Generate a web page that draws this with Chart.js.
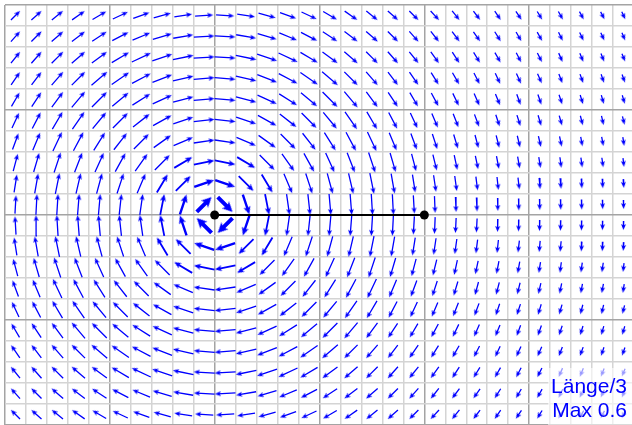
<!DOCTYPE html>
<html>
<head>
<meta charset="utf-8">
<script src="https://cdn.jsdelivr.net/npm/chart.js@4.4.1/dist/chart.umd.min.js"></script>
<style>
    html, body { margin: 0; padding: 0; background: #fff; overflow: hidden; }
    #wrap { position: relative; width: 632px; height: 425px; overflow: hidden; }
    #wrap canvas { position: absolute; left: 0; top: 0; }
    #note {
        position: absolute; left: 548px; top: 368px; width: 84px; height: 57px;
        box-sizing: border-box; padding: 5.75px 5px 0 0;
        background: rgba(255, 255, 255, 0.6);
        color: #0000ff; text-align: right;
        font-family: "Liberation Sans", Arial, Helvetica, sans-serif;
        font-size: 21px; line-height: 24px; white-space: nowrap;
    }
</style>
</head>
<body>
<div id="wrap">
    <canvas id="fieldChart" width="640" height="430"></canvas>
    <div id="note"></div>
</div>
<script>
// Wirbelfeld: Pfeile in den Zellmitten
const xCenters = [-1.9, -1.7, -1.5, -1.3, -1.1, -0.9, -0.7, -0.5, -0.3, -0.1,
    0.1, 0.3, 0.5, 0.7, 0.9, 1.1, 1.3, 1.5, 1.7, 1.9,
    2.1, 2.3, 2.5, 2.7, 2.9, 3.1, 3.3, 3.5, 3.7, 3.9];
const yCenters = [1.9, 1.7, 1.5, 1.3, 1.1, 0.9, 0.7, 0.5, 0.3, 0.1,
    -0.1, -0.3, -0.5, -0.7, -0.9, -1.1, -1.3, -1.5, -1.7, -1.9];

// x-Komponente je Zeile (oben nach unten)
const fieldU = [
    [0.26,0.29,0.32,0.36,0.39,0.43,0.46,0.49,0.51,0.52,0.52,0.51,0.49,0.46,0.43,0.39,0.36,0.32,0.29,0.26,0.24,0.21,0.19,0.17,0.16,0.14,0.13,0.12,0.11,0.10],
    [0.26,0.29,0.33,0.37,0.41,0.46,0.50,0.54,0.57,0.59,0.59,0.57,0.54,0.50,0.46,0.41,0.37,0.33,0.29,0.26,0.23,0.21,0.19,0.17,0.15,0.14,0.12,0.11,0.10,0.09],
    [0.26,0.29,0.33,0.38,0.43,0.49,0.55,0.60,0.64,0.66,0.66,0.64,0.60,0.55,0.49,0.43,0.38,0.33,0.29,0.26,0.23,0.20,0.18,0.16,0.14,0.13,0.11,0.10,0.09,0.09],
    [0.25,0.28,0.33,0.38,0.45,0.52,0.60,0.67,0.73,0.76,0.76,0.73,0.67,0.60,0.52,0.45,0.38,0.33,0.28,0.25,0.21,0.19,0.16,0.14,0.13,0.12,0.10,0.09,0.08,0.08],
    [0.23,0.27,0.32,0.38,0.45,0.54,0.65,0.75,0.85,0.90,0.90,0.85,0.75,0.65,0.54,0.45,0.38,0.32,0.27,0.23,0.20,0.17,0.15,0.13,0.11,0.10,0.09,0.08,0.07,0.07],
    [0.20,0.24,0.29,0.36,0.45,0.56,0.69,0.85,1.00,1.10,1.10,1.00,0.85,0.69,0.56,0.45,0.36,0.29,0.24,0.20,0.17,0.15,0.13,0.11,0.10,0.09,0.08,0.07,0.06,0.06],
    [0.17,0.21,0.26,0.32,0.41,0.54,0.71,0.95,1.21,1.40,1.40,1.21,0.95,0.71,0.54,0.41,0.32,0.26,0.21,0.17,0.14,0.12,0.10,0.09,0.08,0.07,0.06,0.05,0.05,0.04],
    [0.13,0.16,0.20,0.26,0.34,0.47,0.68,1.00,1.47,1.92,1.92,1.47,1.00,0.68,0.47,0.34,0.26,0.20,0.16,0.13,0.11,0.09,0.08,0.07,0.06,0.05,0.04,0.04,0.04,0.03],
    [0.08,0.10,0.13,0.17,0.23,0.33,0.52,0.88,1.67,3.00,3.00,1.67,0.88,0.52,0.33,0.23,0.17,0.13,0.10,0.08,0.07,0.06,0.05,0.04,0.04,0.03,0.03,0.02,0.02,0.02],
    [0.03,0.03,0.04,0.06,0.08,0.12,0.20,0.38,1.00,5.00,5.00,1.00,0.38,0.20,0.12,0.08,0.06,0.04,0.03,0.03,0.02,0.02,0.02,0.01,0.01,0.01,0.01,0.01,0.01,0.01],
    [-0.03,-0.03,-0.04,-0.06,-0.08,-0.12,-0.20,-0.38,-1.00,-5.00,-5.00,-1.00,-0.38,-0.20,-0.12,-0.08,-0.06,-0.04,-0.03,-0.03,-0.02,-0.02,-0.02,-0.01,-0.01,-0.01,-0.01,-0.01,-0.01,-0.01],
    [-0.08,-0.10,-0.13,-0.17,-0.23,-0.33,-0.52,-0.88,-1.67,-3.00,-3.00,-1.67,-0.88,-0.52,-0.33,-0.23,-0.17,-0.13,-0.10,-0.08,-0.07,-0.06,-0.05,-0.04,-0.04,-0.03,-0.03,-0.02,-0.02,-0.02],
    [-0.13,-0.16,-0.20,-0.26,-0.34,-0.47,-0.68,-1.00,-1.47,-1.92,-1.92,-1.47,-1.00,-0.68,-0.47,-0.34,-0.26,-0.20,-0.16,-0.13,-0.11,-0.09,-0.08,-0.07,-0.06,-0.05,-0.04,-0.04,-0.04,-0.03],
    [-0.17,-0.21,-0.26,-0.32,-0.41,-0.54,-0.71,-0.95,-1.21,-1.40,-1.40,-1.21,-0.95,-0.71,-0.54,-0.41,-0.32,-0.26,-0.21,-0.17,-0.14,-0.12,-0.10,-0.09,-0.08,-0.07,-0.06,-0.05,-0.05,-0.04],
    [-0.20,-0.24,-0.29,-0.36,-0.45,-0.56,-0.69,-0.85,-1.00,-1.10,-1.10,-1.00,-0.85,-0.69,-0.56,-0.45,-0.36,-0.29,-0.24,-0.20,-0.17,-0.15,-0.13,-0.11,-0.10,-0.09,-0.08,-0.07,-0.06,-0.06],
    [-0.23,-0.27,-0.32,-0.38,-0.45,-0.54,-0.65,-0.75,-0.85,-0.90,-0.90,-0.85,-0.75,-0.65,-0.54,-0.45,-0.38,-0.32,-0.27,-0.23,-0.20,-0.17,-0.15,-0.13,-0.11,-0.10,-0.09,-0.08,-0.07,-0.07],
    [-0.25,-0.28,-0.33,-0.38,-0.45,-0.52,-0.60,-0.67,-0.73,-0.76,-0.76,-0.73,-0.67,-0.60,-0.52,-0.45,-0.38,-0.33,-0.28,-0.25,-0.21,-0.19,-0.16,-0.14,-0.13,-0.12,-0.10,-0.09,-0.08,-0.08],
    [-0.26,-0.29,-0.33,-0.38,-0.43,-0.49,-0.55,-0.60,-0.64,-0.66,-0.66,-0.64,-0.60,-0.55,-0.49,-0.43,-0.38,-0.33,-0.29,-0.26,-0.23,-0.20,-0.18,-0.16,-0.14,-0.13,-0.11,-0.10,-0.09,-0.09],
    [-0.26,-0.29,-0.33,-0.37,-0.41,-0.46,-0.50,-0.54,-0.57,-0.59,-0.59,-0.57,-0.54,-0.50,-0.46,-0.41,-0.37,-0.33,-0.29,-0.26,-0.23,-0.21,-0.19,-0.17,-0.15,-0.14,-0.12,-0.11,-0.10,-0.09],
    [-0.26,-0.29,-0.32,-0.36,-0.39,-0.43,-0.46,-0.49,-0.51,-0.52,-0.52,-0.51,-0.49,-0.46,-0.43,-0.39,-0.36,-0.32,-0.29,-0.26,-0.24,-0.21,-0.19,-0.17,-0.16,-0.14,-0.13,-0.12,-0.11,-0.10],
];

// y-Komponente je Zeile (oben nach unten)
const fieldV = [
    [0.26,0.26,0.26,0.25,0.23,0.20,0.17,0.13,0.08,0.03,-0.03,-0.08,-0.13,-0.17,-0.20,-0.23,-0.25,-0.26,-0.26,-0.26,-0.26,-0.26,-0.25,-0.25,-0.24,-0.23,-0.23,-0.22,-0.21,-0.21],
    [0.29,0.29,0.29,0.28,0.27,0.24,0.21,0.16,0.10,0.03,-0.03,-0.10,-0.16,-0.21,-0.24,-0.27,-0.28,-0.29,-0.29,-0.29,-0.29,-0.28,-0.27,-0.27,-0.26,-0.25,-0.24,-0.23,-0.22,-0.22],
    [0.32,0.33,0.33,0.33,0.32,0.29,0.26,0.20,0.13,0.04,-0.04,-0.13,-0.20,-0.26,-0.29,-0.32,-0.33,-0.33,-0.33,-0.32,-0.32,-0.31,-0.29,-0.28,-0.27,-0.26,-0.25,-0.24,-0.23,-0.22],
    [0.36,0.37,0.38,0.38,0.38,0.36,0.32,0.26,0.17,0.06,-0.06,-0.17,-0.26,-0.32,-0.36,-0.38,-0.38,-0.38,-0.37,-0.36,-0.34,-0.33,-0.31,-0.30,-0.29,-0.27,-0.26,-0.25,-0.24,-0.23],
    [0.39,0.41,0.43,0.45,0.45,0.45,0.41,0.34,0.23,0.08,-0.08,-0.23,-0.34,-0.41,-0.45,-0.45,-0.45,-0.43,-0.41,-0.39,-0.37,-0.35,-0.34,-0.32,-0.30,-0.29,-0.27,-0.26,-0.25,-0.24],
    [0.43,0.46,0.49,0.52,0.54,0.56,0.54,0.47,0.33,0.12,-0.12,-0.33,-0.47,-0.54,-0.56,-0.54,-0.52,-0.49,-0.46,-0.43,-0.40,-0.38,-0.35,-0.33,-0.31,-0.30,-0.28,-0.27,-0.26,-0.24],
    [0.46,0.50,0.55,0.60,0.65,0.69,0.71,0.68,0.52,0.20,-0.20,-0.52,-0.68,-0.71,-0.69,-0.65,-0.60,-0.55,-0.50,-0.46,-0.43,-0.40,-0.37,-0.35,-0.33,-0.31,-0.29,-0.27,-0.26,-0.25],
    [0.49,0.54,0.60,0.67,0.75,0.85,0.95,1.00,0.88,0.38,-0.38,-0.88,-1.00,-0.95,-0.85,-0.75,-0.67,-0.60,-0.54,-0.49,-0.45,-0.42,-0.38,-0.36,-0.33,-0.31,-0.30,-0.28,-0.27,-0.25],
    [0.51,0.57,0.64,0.73,0.85,1.00,1.21,1.47,1.67,1.00,-1.00,-1.67,-1.47,-1.21,-1.00,-0.85,-0.73,-0.64,-0.57,-0.51,-0.47,-0.43,-0.39,-0.37,-0.34,-0.32,-0.30,-0.28,-0.27,-0.25],
    [0.52,0.59,0.66,0.76,0.90,1.10,1.40,1.92,3.00,5.00,-5.00,-3.00,-1.92,-1.40,-1.10,-0.90,-0.76,-0.66,-0.59,-0.52,-0.48,-0.43,-0.40,-0.37,-0.34,-0.32,-0.30,-0.29,-0.27,-0.26],
    [0.52,0.59,0.66,0.76,0.90,1.10,1.40,1.92,3.00,5.00,-5.00,-3.00,-1.92,-1.40,-1.10,-0.90,-0.76,-0.66,-0.59,-0.52,-0.48,-0.43,-0.40,-0.37,-0.34,-0.32,-0.30,-0.29,-0.27,-0.26],
    [0.51,0.57,0.64,0.73,0.85,1.00,1.21,1.47,1.67,1.00,-1.00,-1.67,-1.47,-1.21,-1.00,-0.85,-0.73,-0.64,-0.57,-0.51,-0.47,-0.43,-0.39,-0.37,-0.34,-0.32,-0.30,-0.28,-0.27,-0.25],
    [0.49,0.54,0.60,0.67,0.75,0.85,0.95,1.00,0.88,0.38,-0.38,-0.88,-1.00,-0.95,-0.85,-0.75,-0.67,-0.60,-0.54,-0.49,-0.45,-0.42,-0.38,-0.36,-0.33,-0.31,-0.30,-0.28,-0.27,-0.25],
    [0.46,0.50,0.55,0.60,0.65,0.69,0.71,0.68,0.52,0.20,-0.20,-0.52,-0.68,-0.71,-0.69,-0.65,-0.60,-0.55,-0.50,-0.46,-0.43,-0.40,-0.37,-0.35,-0.33,-0.31,-0.29,-0.27,-0.26,-0.25],
    [0.43,0.46,0.49,0.52,0.54,0.56,0.54,0.47,0.33,0.12,-0.12,-0.33,-0.47,-0.54,-0.56,-0.54,-0.52,-0.49,-0.46,-0.43,-0.40,-0.38,-0.35,-0.33,-0.31,-0.30,-0.28,-0.27,-0.26,-0.24],
    [0.39,0.41,0.43,0.45,0.45,0.45,0.41,0.34,0.23,0.08,-0.08,-0.23,-0.34,-0.41,-0.45,-0.45,-0.45,-0.43,-0.41,-0.39,-0.37,-0.35,-0.34,-0.32,-0.30,-0.29,-0.27,-0.26,-0.25,-0.24],
    [0.36,0.37,0.38,0.38,0.38,0.36,0.32,0.26,0.17,0.06,-0.06,-0.17,-0.26,-0.32,-0.36,-0.38,-0.38,-0.38,-0.37,-0.36,-0.34,-0.33,-0.31,-0.30,-0.29,-0.27,-0.26,-0.25,-0.24,-0.23],
    [0.32,0.33,0.33,0.33,0.32,0.29,0.26,0.20,0.13,0.04,-0.04,-0.13,-0.20,-0.26,-0.29,-0.32,-0.33,-0.33,-0.33,-0.32,-0.32,-0.31,-0.29,-0.28,-0.27,-0.26,-0.25,-0.24,-0.23,-0.22],
    [0.29,0.29,0.29,0.28,0.27,0.24,0.21,0.16,0.10,0.03,-0.03,-0.10,-0.16,-0.21,-0.24,-0.27,-0.28,-0.29,-0.29,-0.29,-0.29,-0.28,-0.27,-0.27,-0.26,-0.25,-0.24,-0.23,-0.22,-0.22],
    [0.26,0.26,0.26,0.25,0.23,0.20,0.17,0.13,0.08,0.03,-0.03,-0.08,-0.13,-0.17,-0.20,-0.23,-0.25,-0.26,-0.26,-0.26,-0.26,-0.26,-0.25,-0.25,-0.24,-0.23,-0.23,-0.22,-0.21,-0.21],
];

// Wirbelzentrum und Endpunkt der schwarzen Strecke
const markerX = [0, 2];
const markerY = [0, 0];

// Anzeige: Länge/3, Länge begrenzt auf 0.6
const lengthDivisor = 3;
const maxShown = 0.6;
const noteLines = ["Länge/3", "Max 0.6"];

document.getElementById("note").innerHTML = noteLines.join("<br>");

const PX_PER_UNIT = 105; // 630 px Breite fuer 6 Einheiten
const BLUE = "#0000ff";

// Strichstärke / Spitze je nach Betrag
const arrowStyles = [
    { min: 5, width: 4, headW: 10, headL: 10 },
    { min: 2.5, width: 2.4, headW: 7, headL: 8 },
    { min: 1.5, width: 1.8, headW: 6, headL: 7 },
    { min: 0, width: 1.3, headW: 5, headL: 6 },
];

// Pfeilspitze als kleines Bild, Spitze liegt in der Bildmitte
function makeHead(w, l) {
    const c = document.createElement("canvas");
    c.width = w;
    c.height = 2 * l;
    const g = c.getContext("2d");
    g.fillStyle = BLUE;
    g.beginPath();
    g.moveTo(w / 2, l);
    g.lineTo(w, 2 * l);
    g.lineTo(w / 2, 2 * l - l * 0.2);
    g.lineTo(0, 2 * l);
    g.closePath();
    g.fill();
    return c;
}
const headImgs = arrowStyles.map((s) => makeHead(s.headW, s.headL));

const shafts = arrowStyles.map(() => []);
const heads = [];
yCenters.forEach((yc, r) => {
    xCenters.forEach((xc, c) => {
        const u = fieldU[r][c];
        const v = fieldV[r][c];
        const m = Math.hypot(u, v);
        const k = arrowStyles.findIndex((s) => m >= s.min);
        const len = Math.min(m, maxShown) / lengthDivisor;
        const ux = u / m;
        const uy = v / m;
        const tipX = xc + (ux * len) / 2;
        const tipY = yc + (uy * len) / 2;
        const back = (arrowStyles[k].headL * 0.5) / PX_PER_UNIT;
        shafts[k].push(
            { x: xc - (ux * len) / 2, y: yc - (uy * len) / 2 },
            { x: tipX - ux * back, y: tipY - uy * back },
            { x: xc, y: null }
        );
        heads.push({ x: tipX, y: tipY, angle: (Math.atan2(u, v) * 180) / Math.PI, k: k });
    });
});

const isMajor = (v) => Math.abs(v - Math.round(v)) < 1e-6;
const gridOpts = {
    drawTicks: false,
    color: (ctx) => (isMajor(ctx.tick.value) ? "#a4a4a4" : "#d4d4d4"),
    lineWidth: 1.5,
};

new Chart(document.getElementById("fieldChart"), {
    type: "line",
    data: {
        datasets: [
            ...shafts.map((pts, k) => ({
                data: pts,
                borderColor: BLUE,
                borderWidth: arrowStyles[k].width,
                borderCapStyle: "butt",
                pointRadius: 0,
                fill: false,
                tension: 0,
                order: 3,
            })),
            {
                data: heads,
                showLine: false,
                pointRadius: 3,
                pointStyle: (ctx) => (ctx.raw ? headImgs[ctx.raw.k] : "triangle"),
                rotation: (ctx) => (ctx.raw ? ctx.raw.angle : 0),
                order: 2,
            },
            {
                data: markerX.map((x, i) => ({ x: x, y: markerY[i] })),
                borderColor: "#000",
                borderWidth: 2,
                pointRadius: 4.5,
                pointBackgroundColor: "#000",
                pointBorderWidth: 0,
                order: 1,
            },
        ],
    },
    options: {
        responsive: false,
        animation: false,
        devicePixelRatio: 1,
        events: [],
        layout: { padding: { left: 4, top: 5, right: 6, bottom: 5 } },
        plugins: { legend: { display: false }, tooltip: { enabled: false } },
        scales: {
            x: {
                type: "linear",
                min: -2,
                max: 4,
                border: { display: false },
                ticks: { display: false, stepSize: 0.2 },
                grid: gridOpts,
            },
            y: {
                type: "linear",
                min: -2,
                max: 2,
                border: { display: false },
                ticks: { display: false, stepSize: 0.2 },
                grid: gridOpts,
            },
        },
    },
});
</script>
</body>
</html>
